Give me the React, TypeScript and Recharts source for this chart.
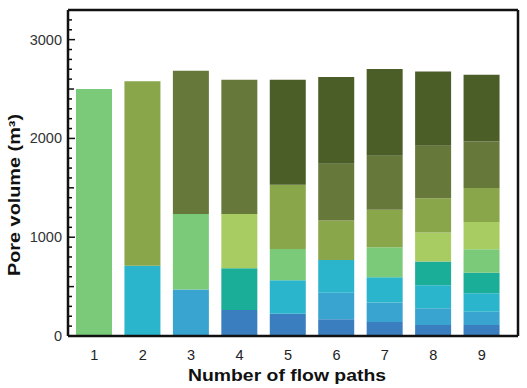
import { BarChart, Bar, XAxis, YAxis, Cell, Label } from 'recharts'

// stacked pore volume per flow path count, bottom segment first
const paths = ['1', '2', '3', '4', '5', '6', '7', '8', '9']

const segs1 = [2500]
const segs2 = [710, 1870]
const segs3 = [470, 765, 1450]
const segs4 = [263, 423, 550, 1358]
const segs5 = [225, 340, 315, 650, 1065]
const segs6 = [169, 270, 331, 398, 575, 880]
const segs7 = [142, 196, 257, 304, 378, 547, 880]
const segs8 = [111, 169, 233, 240, 294, 348, 530, 753]
const segs9 = [111, 135, 186, 209, 237, 277, 342, 472, 675]

const BLUE = '#3b7ebf'
const MIDBLUE = '#38a4cf'
const CYAN = '#2bb5cc'
const TEAL = '#1aae98'
const LGREEN = '#7bca7a'
const YGREEN = '#a9cc62'
const OLIVE = '#8aa64a'
const MOLIVE = '#66783a'
const DOLIVE = '#4c5e27'

const cols1 = [LGREEN]
const cols2 = [CYAN, OLIVE]
const cols3 = [MIDBLUE, LGREEN, MOLIVE]
const cols4 = [BLUE, TEAL, YGREEN, MOLIVE]
const cols5 = [BLUE, CYAN, LGREEN, OLIVE, DOLIVE]
const cols6 = [BLUE, MIDBLUE, CYAN, OLIVE, MOLIVE, DOLIVE]
const cols7 = [BLUE, MIDBLUE, CYAN, LGREEN, OLIVE, MOLIVE, DOLIVE]
const cols8 = [BLUE, MIDBLUE, CYAN, TEAL, YGREEN, OLIVE, MOLIVE, DOLIVE]
const cols9 = [BLUE, MIDBLUE, CYAN, TEAL, LGREEN, YGREEN, OLIVE, MOLIVE, DOLIVE]

const segments = [segs1, segs2, segs3, segs4, segs5, segs6, segs7, segs8, segs9]
const colors = [cols1, cols2, cols3, cols4, cols5, cols6, cols7, cols8, cols9]
const layers = [0, 1, 2, 3, 4, 5, 6, 7, 8]

const yTicks = Array.from({ length: 34 }, (_, i) => i * 100)

const data = paths.map((name, i) => {
  const row: Record<string, string | number> = { name }
  layers.forEach((l) => {
    row['s' + l] = segments[i][l] ?? 0
  })
  return row
})

const FONT = '"Liberation Sans", Arial, sans-serif'

function YTick({ x, y, payload }: any) {
  const v = payload.value
  const major = v % 1000 === 0
  const len = major ? 7 : v % 500 === 0 ? 6 : 4
  return (
    <g>
      <line x1={x} x2={x + len} y1={y} y2={y} stroke="#111" strokeWidth={1.5} />
      {major && (
        <text x={x - 6} y={y} dy={5} textAnchor="end" fontSize={14.5} fill="#333" fontFamily={FONT}>
          {v}
        </text>
      )}
    </g>
  )
}

export default function App() {
  return (
    <div style={{ position: 'absolute', left: 0, top: 0, background: '#fff' }}>
      <BarChart
        width={527}
        height={388}
        data={data}
        barSize={36}
        margin={{ top: 9, right: 8, bottom: 12, left: 0 }}
      >
        <XAxis
          dataKey="name"
          height={40}
          padding={{ left: 2, right: 12 }}
          tickLine={false}
          tickSize={0}
          tickMargin={14}
          tick={{ fontSize: 14.5, fill: '#222', fontFamily: FONT }}
          axisLine={{ stroke: '#111', strokeWidth: 2.5 }}
        >
          <Label
            content={() => (
              <text
                x={287}
                y={381}
                textAnchor="middle"
                fontSize={16.5}
                fontWeight="bold"
                fill="#111"
                fontFamily={FONT}
                textLength={198}
                lengthAdjust="spacingAndGlyphs"
              >
                Number of flow paths
              </text>
            )}
          />
        </XAxis>
        <XAxis
          xAxisId="top"
          dataKey="name"
          orientation="top"
          height={1}
          tick={false}
          tickLine={false}
          axisLine={{ stroke: '#111', strokeWidth: 2.5 }}
        />
        <YAxis
          width={68}
          domain={[0, 3300]}
          ticks={yTicks}
          interval={0}
          tickSize={0}
          tickMargin={0}
          tickLine={false}
          tick={<YTick />}
          axisLine={{ stroke: '#111', strokeWidth: 2.5 }}
        >
          <Label
            content={() => (
              <text
                x={20}
                y={195}
                transform="rotate(-90 20 195)"
                textAnchor="middle"
                fontSize={16.5}
                fontWeight="bold"
                fill="#111"
                fontFamily={FONT}
                textLength={162}
                lengthAdjust="spacingAndGlyphs"
              >
                Pore volume (m³)
              </text>
            )}
          />
        </YAxis>
        <YAxis
          yAxisId="right"
          orientation="right"
          width={1}
          domain={[0, 3300]}
          tick={false}
          tickLine={false}
          axisLine={{ stroke: '#111', strokeWidth: 2.5 }}
        />
        {layers.map((l) => (
          <Bar key={l} dataKey={'s' + l} stackId="v" isAnimationActive={false}>
            {paths.map((p, i) => (
              <Cell key={p} fill={colors[i][l] ?? '#fff'} />
            ))}
          </Bar>
        ))}
      </BarChart>
    </div>
  )
}
